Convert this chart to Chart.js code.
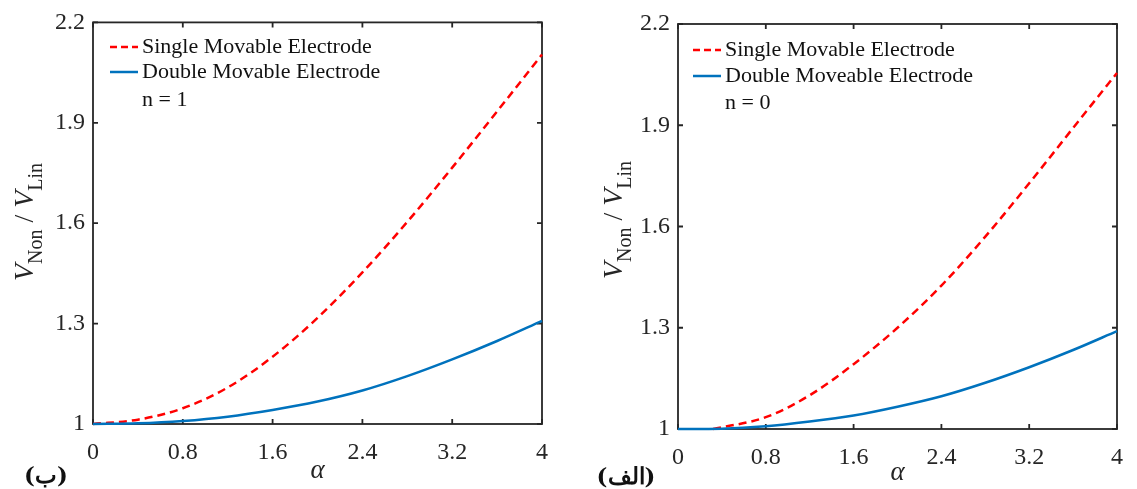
<!DOCTYPE html>
<html><head><meta charset="utf-8">
<script src="https://cdn.jsdelivr.net/npm/chart.js@4.4.1/dist/chart.umd.min.js"></script>
<style>
html,body{margin:0;padding:0;background:#fff;width:1137px;height:489px;overflow:hidden}
.box{position:absolute;top:0;height:489px}
#bl{left:0;width:568px}
#br{left:568px;width:569px}
canvas{display:block}
</style></head><body>
<div class="box" id="bl"><canvas id="cl"></canvas></div>
<div class="box" id="br"><canvas id="cr"></canvas></div>
<script>
// ---- data ----
const alphaGrid = [0, 0.4, 0.8, 1.2, 1.6, 2.0, 2.4, 2.8, 3.2, 3.6, 4];
// left panel (ب), n = 1
const singleLeft = [1, 1.013, 1.047, 1.109, 1.201, 1.317, 1.453, 1.604, 1.766, 1.934, 2.104];
const doubleLeft = [1, 1.002, 1.009, 1.022, 1.042, 1.067, 1.10, 1.143, 1.193, 1.248, 1.308];
// right panel (الف), n = 0
const alphaSingleRight = [0.32, 0.8, 1.2, 1.6, 2.0, 2.4, 2.8, 3.2, 3.6, 4];
const singleRight = [1, 1.035, 1.10, 1.192, 1.30, 1.425, 1.57, 1.728, 1.892, 2.055];
const doubleRight = [1, 1.001, 1.008, 1.022, 1.040, 1.066, 1.097, 1.137, 1.183, 1.234, 1.29];
// ticks
const xTicks = [0, 0.8, 1.6, 2.4, 3.2, 4];
const yTicks = [1, 1.3, 1.6, 1.9, 2.2];
const legendSingle = 'Single Movable Electrode';
const legendDoubleLeft = 'Double Movable Electrode';
const legendDoubleRight = 'Double Moveable Electrode';

const SERIF = '"Liberation Serif", "Times New Roman", serif';
const INK = '#262626';
const RED = '#FF0000';
const BLUE = '#0072BD';

function pts(xs, ys){ return xs.map((x,i)=>({x:x, y:ys[i]})); }

const framePlugin = {
  id: 'frame',
  beforeDatasetsDraw(chart){
    const {ctx, chartArea:a, scales:{x, y}} = chart;
    ctx.save();
    ctx.strokeStyle = INK; ctx.lineWidth = 1.8;
    ctx.strokeRect(a.left, a.top, a.right - a.left, a.bottom - a.top);
    const L = 5;
    ctx.beginPath();
    x.ticks.forEach(t => { const px = x.getPixelForValue(t.value);
      ctx.moveTo(px, a.bottom); ctx.lineTo(px, a.bottom - L);
      ctx.moveTo(px, a.top); ctx.lineTo(px, a.top + L); });
    y.ticks.forEach(t => { const py = y.getPixelForValue(t.value);
      ctx.moveTo(a.left, py); ctx.lineTo(a.left + L, py);
      ctx.moveTo(a.right, py); ctx.lineTo(a.right - L, py); });
    ctx.stroke();
    ctx.restore();
  }
};

const decoPlugin = {
  id: 'deco',
  afterDraw(chart, args, o){
    const ctx = chart.ctx;
    ctx.save();
    // legend
    const rows = [
      {label: o.single, color: RED, dash: [7, 4]},
      {label: o.double, color: BLUE, dash: []}
    ];
    ctx.textBaseline = 'middle';
    ctx.font = '22px ' + SERIF;
    rows.forEach((r, i) => {
      const yy = o.legY[i];
      ctx.beginPath(); ctx.setLineDash(r.dash); ctx.strokeStyle = r.color; ctx.lineWidth = 2.5;
      ctx.moveTo(o.legX, yy); ctx.lineTo(o.legX + 28, yy); ctx.stroke();
      ctx.setLineDash([]);
      ctx.fillStyle = '#111'; ctx.textAlign = 'left';
      ctx.fillText(r.label, o.legX + 32, yy);
    });
    ctx.fillText(o.nText, o.legX + 32, o.legY[2]);
    // x-axis title
    ctx.font = 'italic 27px ' + SERIF;
    ctx.textAlign = 'center';
    const a = chart.chartArea;
    ctx.fillStyle = INK;
    ctx.fillText('\u03B1', (a.left + a.right) / 2, o.xTitleY);
    // y-axis title: V_Non / V_Lin
    const segs = [
      {t: 'V', f: 'italic 28px ' + SERIF, sub: 0},
      {t: 'Non', f: '20px ' + SERIF, sub: 9},
      {t: ' / ', f: '28px ' + SERIF, sub: 0},
      {t: 'V', f: 'italic 28px ' + SERIF, sub: 0},
      {t: 'Lin', f: '20px ' + SERIF, sub: 9}
    ];
    let total = 0;
    segs.forEach(s => { ctx.font = s.f; s.w = ctx.measureText(s.t).width; total += s.w; });
    ctx.translate(o.yTitleX, o.yTitleY);
    ctx.rotate(-Math.PI / 2);
    ctx.textAlign = 'left'; ctx.textBaseline = 'alphabetic';
    let cx = -total / 2;
    segs.forEach(s => { ctx.font = s.f; ctx.fillText(s.t, cx, s.sub); cx += s.w; });
    ctx.setTransform(1,0,0,1,0,0);
    // panel label
    ctx.font = 'bold 23px "DejaVu Serif", ' + SERIF;
    ctx.textAlign = 'center'; ctx.textBaseline = 'middle';
    ctx.fillStyle = '#111';
    ctx.fillText(o.panel, o.panelX, o.panelY);
    ctx.restore();
  }
};

function makeChart(id, cfg){
  return new Chart(document.getElementById(id), {
    type: 'line',
    data: {
      datasets: [
        {label: cfg.single, data: cfg.redData, borderColor: RED, borderWidth: 2.5, borderDash: [8, 5],
         pointRadius: 0, cubicInterpolationMode: 'monotone', fill: false, order: 1, clip: 4},
        {label: cfg.double, data: cfg.blueData, borderColor: BLUE, borderWidth: 2.5,
         pointRadius: 0, cubicInterpolationMode: 'monotone', fill: false, order: 0, clip: 4}
      ]
    },
    options: {
      responsive: true, maintainAspectRatio: false, animation: false,
      layout: {padding: {top: cfg.padTop, right: cfg.padRight, left: 0, bottom: 0}},
      plugins: {
        legend: {display: false}, tooltip: {enabled: false},
        deco: cfg.deco
      },
      scales: {
        x: {
          type: 'linear', min: 0, max: 4,
          afterBuildTicks: s => { s.ticks = xTicks.map(v => ({value: v})); },
          afterFit: s => { s.height = cfg.xH; },
          grid: {display: false, drawTicks: false},
          border: {display: false},
          ticks: {color: INK, font: {family: SERIF, size: 24}, padding: 14, maxRotation: 0,
                  callback: v => String(+v.toFixed(1))}
        },
        y: {
          type: 'linear', min: 1, max: 2.2,
          afterBuildTicks: s => { s.ticks = yTicks.map(v => ({value: v})); },
          afterFit: s => { s.width = cfg.yW; },
          grid: {display: false, drawTicks: false},
          border: {display: false},
          ticks: {color: INK, font: {family: SERIF, size: 24}, padding: 8,
                  callback: v => String(+v.toFixed(1))}
        }
      }
    },
    plugins: [framePlugin, decoPlugin]
  });
}

makeChart('cl', {
  single: legendSingle, double: legendDoubleLeft,
  redData: pts(alphaGrid, singleLeft), blueData: pts(alphaGrid, doubleLeft),
  padTop: 22, padRight: 26, xH: 65, yW: 93,
  deco: {single: legendSingle, double: legendDoubleLeft, nText: 'n = 1',
         legX: 110, legY: [47, 72, 100], xTitleY: 471,
         yTitleX: 33, yTitleY: 222, panel: '(ب)', panelX: 46, panelY: 477}
});
makeChart('cr', {
  single: legendSingle, double: legendDoubleRight,
  redData: pts(alphaSingleRight, singleRight), blueData: pts(alphaGrid, doubleRight),
  padTop: 24, padRight: 13, xH: 60, yW: 110,
  deco: {single: legendSingle, double: legendDoubleRight, nText: 'n = 0',
         legX: 125, legY: [50, 76, 103], xTitleY: 473,
         yTitleX: 54, yTitleY: 220, panel: '(الف)', panelX: 58, panelY: 478}
});
</script>
</body></html>
